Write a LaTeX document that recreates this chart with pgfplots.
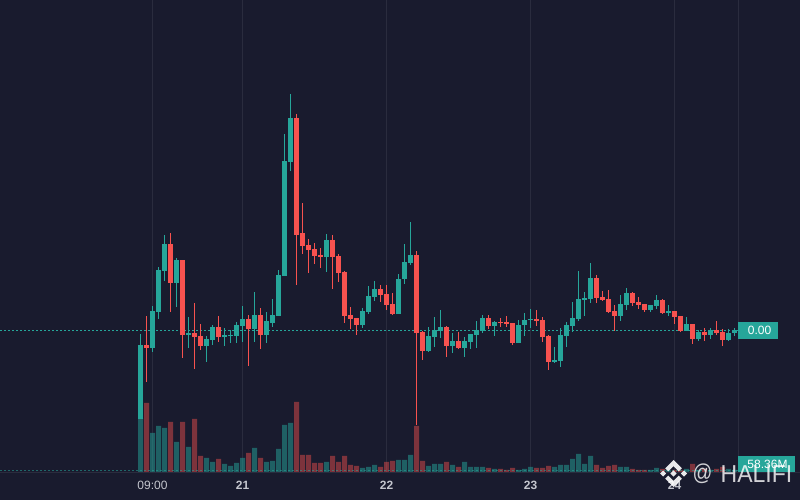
\documentclass[border=0pt]{standalone}
\usepackage{pgfplots}
\usepackage{pgfplotstable}
\pgfplotsset{compat=1.18}
\usepackage{fontspec}
\setmainfont{Liberation Sans}
\definecolor{bg}{HTML}{191B2E}
\definecolor{upc}{HTML}{26A69A}
\definecolor{dnc}{HTML}{F7524F}
\definecolor{gridc}{HTML}{2A2C3E}
\definecolor{txt}{HTML}{C4C6CE}
% candles: index, body top, body bottom, wick top, wick bottom (chart rows, 0 at the top)
\pgfplotstableread{
i top bot hi lo
0 345 419 334 419
2 311 348 306 352
3 270 312 267 319
4 244 271 235 281
6 260 283 258 307
8 333 335 317 348
11 339 346 336 362
12 327 340 325 345
14 335 337 328 346
15 335 336 330 343
16 325 336 322 343
17 319 326 306 342
19 315 329 292 342
21 321 335 312 343
22 315 323 299 327
23 275 316 270 316
24 161 276 134 276
25 118 162 94 171
31 240 257 234 272
37 311 325 308 328
38 296 312 286 314
39 289 297 281 301
43 279 314 274 314
44 262 279 244 284
45 255 263 222 265
48 336 351 327 352
49 330 337 317 347
50 327 331 310 338
52 341 346 333 353
54 341 348 337 357
55 334 342 334 349
56 330 335 321 348
57 318 331 315 333
59 322 326 321 336
63 325 343 320 343
64 320 325 313 336
65 319 320 309 328
69 360 362 347 363
70 335 361 328 367
71 325 336 322 347
72 318 326 302 332
73 299 319 271 321
74 298 300 292 316
75 278 299 263 303
80 304 316 295 321
81 293 305 288 310
85 305 310 305 312
86 300 306 295 309
88 311 313 305 316
91 324 331 317 331
93 332 339 330 341
95 330 335 328 339
98 333 340 329 341
99 330 333 328 336
}\upc
\pgfplotstableread{
i top bot hi lo
1 345 348 316 382
5 244 283 233 312
7 260 335 260 358
9 333 337 303 369
10 336 346 324 350
13 327 337 316 342
18 319 329 315 366
20 315 335 308 349
26 118 235 114 285
27 233 246 203 254
28 245 250 239 273
29 249 256 243 264
30 255 257 248 268
32 240 257 235 289
33 256 273 254 282
34 272 316 271 323
35 315 319 307 329
36 318 325 318 335
40 289 295 285 302
41 294 305 285 310
42 304 314 293 315
46 255 333 251 425
47 332 351 331 360
51 327 346 326 357
53 341 348 332 349
58 318 326 315 329
60 322 323 318 327
61 322 324 316 327
62 323 343 323 345
66 319 321 310 326
67 320 337 317 342
68 336 362 335 370
76 278 298 275 303
77 297 300 291 301
78 299 312 290 313
79 311 316 305 331
82 293 303 292 306
83 302 305 297 309
84 304 310 304 312
87 300 313 299 314
89 311 317 311 324
90 316 331 316 332
92 324 339 324 344
94 332 335 328 341
96 330 333 321 335
97 332 340 329 346
}\dnc
\pgfplotstableread{
i v
0 54
2 39
3 46
4 44
6 30
8 25
11 14
12 10
14 8
15 6
16 9
17 14
19 24
21 10
22 11
23 23
24 47
25 49
31 10
37 4
38 5
39 7
43 12
44 12
45 17
48 6
49 8
50 8
52 7
54 10
55 5
56 5
57 5
59 3
63 2
64 3
65 5
69 5
70 7
71 7
72 13
73 18
74 8
75 16
80 5
81 5
85 2
86 4
88 2
91 3
93 2
95 2
98 3
99 2
}\upv
\pgfplotstableread{
i v
1 69
5 50
7 50
9 53
10 16
13 13
18 19
20 14
26 70
27 17
28 17
29 9
30 9
32 16
33 10
34 16
35 7
36 6
40 5
41 10
42 11
46 46
47 11
51 10
53 5
58 4
60 3
61 2
62 4
66 4
67 4
68 6
76 7
77 4
78 6
79 7
82 3
83 2
84 2
87 3
89 2
90 2
92 8
94 3
96 3
97 5
}\dnv
\pgfplotsset{base/.style={
  at={(0pt,27pt)},anchor=south west,
  width=800pt,height=473pt,scale only axis,
  xmin=-23.4167,xmax=109.9167,
  axis line style={draw=none},major tick length=0pt,ytick=\empty}}
\newcommand{\candles}[2]{%
  \addplot[draw=none,no markers,forget plot,error bars/y dir=plus,error bars/y explicit,
    error bars/error mark=none,error bars/error bar style={draw=#2,line width=1pt}]
    table[x=i,y=hi,y error expr=\thisrow{lo}-\thisrow{hi}]{#1};
  \addplot[draw=none,no markers,forget plot,error bars/y dir=plus,error bars/y explicit,
    error bars/error mark=none,error bars/error bar style={draw=#2,line width=5pt}]
    table[x=i,y=top,y error expr=\thisrow{bot}-\thisrow{top}]{#1};
}
\begin{document}
\begin{tikzpicture}
\useasboundingbox (0,0) rectangle (800pt,500pt);
\fill[bg] (0,0) rectangle (800pt,500pt);
\begin{axis}[base,ymin=-1,ymax=472,
  xtick={2,17,41,65,89},
  xticklabels={09:00,\textbf{21},\textbf{22},\textbf{23},\textbf{24}},
  extra x ticks={99.667},extra x tick labels={},
  extra x tick style={grid=major},
  xmajorgrids,grid style={gridc,line width=1pt},
  xticklabel style={font=\fontsize{12}{14}\selectfont,text=txt,yshift=-5pt}]
\addplot[color=gridc,line width=1pt] coordinates {(-23.4167,-0.5) (109.9167,-0.5)};
\addplot[ybar,bar width=5pt,bar shift=0pt,draw=none,fill=upc,fill opacity=.5] table[x=i,y=v]{\upv};
\addplot[ybar,bar width=5pt,bar shift=0pt,draw=none,fill=dnc,fill opacity=.45] table[x=i,y=v]{\dnv};
\addplot[color=upc,opacity=.55,line width=1pt,dash pattern=on 2pt off 2pt] coordinates {(-23.4167,1.5) (99.667,1.5)};
\end{axis}
\begin{axis}[base,ymin=0,ymax=473,y dir=reverse,xtick=\empty]
\addplot[color=upc,line width=1pt,dash pattern=on 2pt off 2pt] coordinates {(-23.4167,330.5) (99.667,330.5)};
\candles{\upc}{upc}
\candles{\dnc}{dnc}
\end{axis}
\begin{scope}[x=1pt,y=-1pt,yshift=500pt]
\fill[upc] (738,322) rectangle (778,339);
\node[text=white,font=\fontsize{12}{14}\selectfont] at (759.5,330.5) {0.00};
\fill[upc] (738,456) rectangle (795,472);
\node[text=white,font=\fontsize{12}{14}\selectfont] at (767.5,464) {58.36M};
\node[text=white,opacity=.8,font=\fontsize{23}{25}\selectfont,xscale=.85,anchor=center] at (702.5,474) {@};
\node[text=white,opacity=.8,font=\fontsize{24.5}{26}\selectfont,xscale=.94,anchor=center] at (756.5,474) {HALIFI};
\begin{scope}[shift={(673.5,473.5)},x=.2133pt,y=.2133pt,white,opacity=.9]
\fill (-24.58,-10.11)--(0,-34.68)--(24.59,-10.09)--(38.89,-24.39)--(0,-63.31)--(-38.88,-24.43)--cycle;
\fill (-24.58,10.11)--(0,34.68)--(24.59,10.09)--(38.89,24.39)--(0,63.31)--(-38.88,24.43)--cycle;
\fill (-63.31,0)--(-49.01,14.3)--(-34.71,0)--(-49.01,-14.3)--cycle;
\fill (63.31,0)--(49.01,14.3)--(34.71,0)--(49.01,-14.3)--cycle;
\fill (0,14.32)--(14.32,0)--(0,-14.32)--(-14.32,0)--cycle;
\end{scope}
\end{scope}
\end{tikzpicture}
\end{document}
